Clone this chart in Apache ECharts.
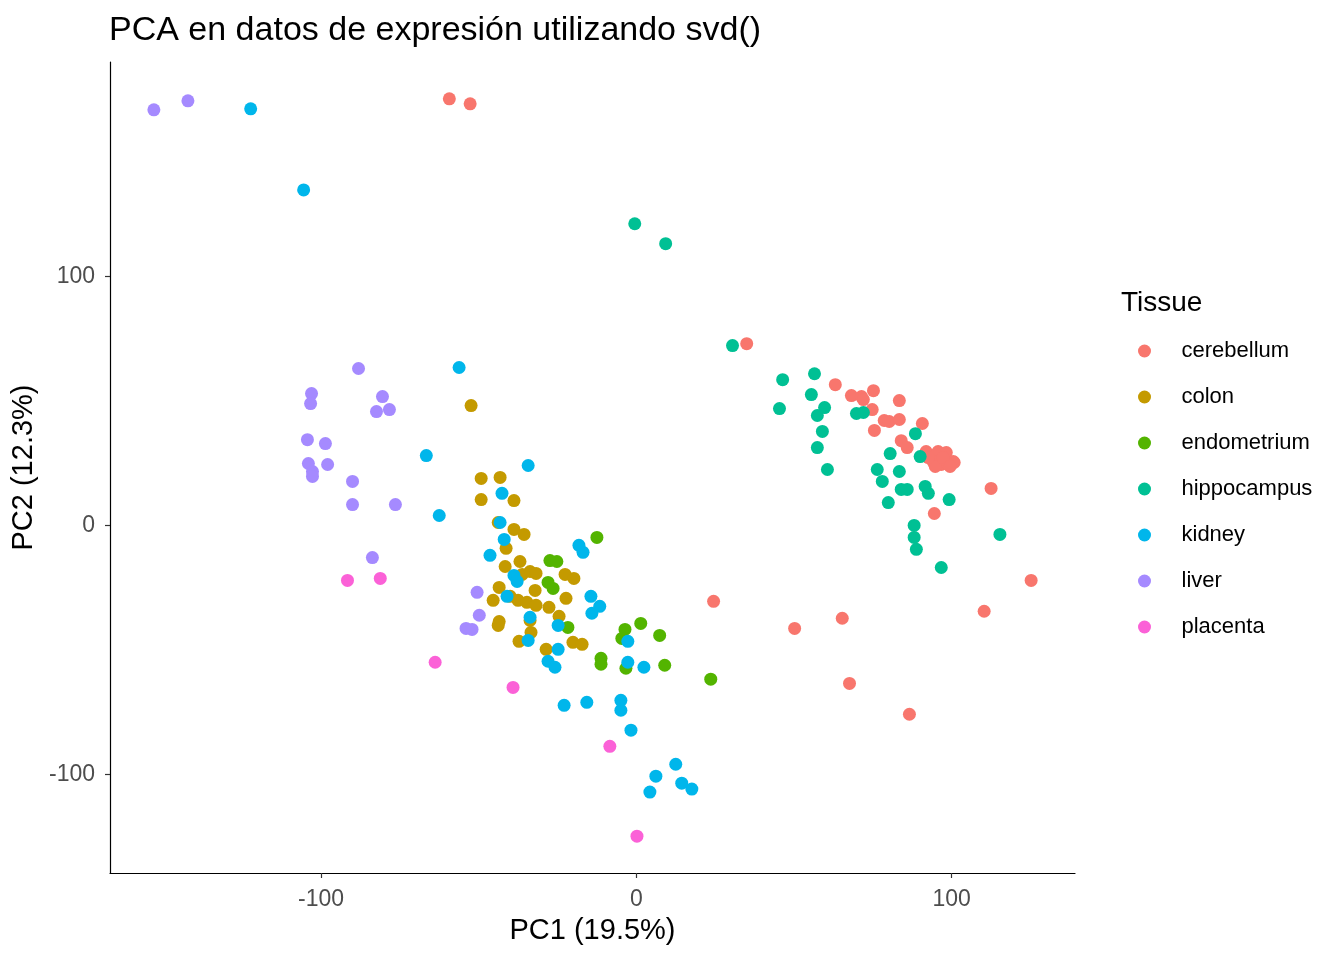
<!DOCTYPE html>
<html>
<head>
<meta charset="utf-8">
<script src="https://cdn.jsdelivr.net/npm/echarts@6/dist/echarts.min.js"></script>
<style>
html,body{margin:0;padding:0;background:#fff;}
#chart{width:1344px;height:960px;}
</style>
</head>
<body>
<div id="chart"></div>
<script>
const tissues = ['cerebellum','colon','endometrium','hippocampus','kidney','liver','placenta'];
const colors = ['#F8766D','#C49A00','#53B400','#00C094','#00B6EB','#A58AFF','#FB61D7'];
const xTicks = [-100, 0, 100];
const yTicks = [-100, 0, 100];

const cerebellum = [
  [-59.3,171.5],[-52.7,169.5],[35.0,73.1],[63.1,56.6],[68.2,52.2],[71.4,51.8],[72.0,50.6],
  [75.2,54.2],[83.4,50.2],[74.8,46.6],[78.6,42.2],[80.2,41.8],[83.4,42.6],[90.7,41.0],
  [75.5,38.2],[84.0,34.1],[85.9,31.3],[91.9,29.7],[95.7,29.7],[98.3,29.3],[94.1,25.7],
  [96.7,24.5],[100.5,25.7],[100.8,25.3],[94.8,23.7],[98.9,24.5],[92.6,27.3],[97.3,27.3],
  [99.5,23.7],[112.5,14.9],[94.5,4.8],[125.2,-22.1],[110.3,-34.5],[24.5,-30.5],
  [50.2,-41.4],[65.3,-37.3],[67.6,-63.5],[86.6,-75.9]
];
const colon = [
  [-52.4,48.2],[-49.2,18.9],[-43.2,19.3],[-49.2,10.4],[-38.8,10.0],[-43.8,1.2],[-38.8,-1.6],
  [-35.6,-3.6],[-41.3,-9.2],[-36.9,-14.5],[-41.6,-16.5],[-36.2,-19.7],[-33.7,-18.5],
  [-31.8,-19.3],[-22.6,-19.7],[-19.8,-21.3],[-43.5,-24.9],[-32.1,-26.1],[-40.0,-28.5],
  [-37.5,-30.1],[-45.4,-30.1],[-34.7,-30.9],[-31.8,-32.1],[-22.3,-29.3],[-27.7,-32.9],
  [-24.5,-36.5],[-43.5,-38.6],[-43.8,-40.2],[-33.7,-38.2],[-33.4,-43.0],[-37.2,-46.6],
  [-20.1,-47.0],[-17.2,-47.8],[-28.6,-49.8]
];
const endometrium = [
  [-12.5,-4.8],[-27.4,-14.1],[-25.2,-14.5],[-28.0,-22.9],[-26.4,-25.3],[-21.7,-41.0],
  [-3.6,-41.8],[1.4,-39.4],[-4.6,-45.4],[7.4,-44.2],[-11.2,-53.4],[-11.2,-55.8],
  [-3.3,-57.4],[9.0,-56.2],[23.6,-61.8]
];
const hippocampus = [
  [-0.5,121.3],[9.3,113.3],[30.5,72.3],[46.4,58.6],[56.5,61.0],[55.5,52.6],[45.4,47.0],
  [59.7,47.4],[57.4,44.2],[69.8,45.0],[72.0,45.4],[59.0,37.8],[88.5,36.9],[57.4,31.3],
  [80.5,28.9],[90.0,27.7],[60.6,22.5],[76.4,22.5],[83.4,21.7],[78.0,17.7],[84.0,14.5],
  [85.9,14.5],[91.6,15.7],[92.6,12.9],[99.2,10.4],[79.9,9.2],[88.1,0.0],[88.1,-4.8],
  [88.8,-9.6],[115.3,-3.6],[96.7,-16.9]
];
const kidney = [
  [-122.3,167.5],[-105.5,134.9],[-56.2,63.5],[-66.6,28.1],[-62.5,4.0],[-34.3,24.1],
  [-42.6,12.9],[-43.2,1.2],[-41.9,-5.6],[-46.4,-12.0],[-18.2,-8.0],[-16.9,-10.8],
  [-38.8,-20.1],[-37.8,-22.5],[-41.0,-28.5],[-14.4,-28.5],[-11.6,-32.5],[-14.1,-35.3],
  [-33.7,-36.9],[-24.8,-40.2],[-2.7,-46.6],[-24.8,-49.8],[-28.0,-54.6],[-25.8,-57.0],
  [-2.7,-55.0],[2.4,-57.0],[-22.9,-72.3],[-15.7,-71.1],[-4.9,-70.3],[-4.9,-74.3],
  [-1.7,-82.3],[12.5,-96.0],[6.2,-100.8],[4.3,-107.2],[14.4,-103.6],[17.6,-106.0],
  [-34.3,-46.2]
];
const liver = [
  [-153.0,167.1],[-142.2,170.7],[-88.1,63.1],[-103.0,53.0],[-103.3,49.0],[-80.5,51.8],
  [-82.4,45.8],[-78.3,46.6],[-104.3,34.5],[-98.6,32.9],[-104.0,24.9],[-102.7,21.7],
  [-102.7,19.7],[-97.9,24.5],[-90.0,17.7],[-90.0,8.4],[-76.4,8.4],[-83.7,-12.9],
  [-50.5,-26.9],[-49.8,-36.1],[-54.0,-41.4],[-52.1,-41.8]
];
const placenta = [
  [-91.6,-22.1],[-81.2,-21.3],[-63.8,-55.0],[-39.1,-65.1],[-8.4,-88.8],[0.2,-124.9]
];

const seriesData = [cerebellum, colon, endometrium, hippocampus, kidney, liver, placenta];

// ggplot-style 5% expansion of the data range
const allPts = seriesData.flat();
const xs = allPts.map(p => p[0]), ys = allPts.map(p => p[1]);
const xMin0 = Math.min(...xs), xMax0 = Math.max(...xs);
const yMin0 = Math.min(...ys), yMax0 = Math.max(...ys);
const xPad = (xMax0 - xMin0) * 0.05, yPad = (yMax0 - yMin0) * 0.05;

const FONT = '"Liberation Sans", Arial, sans-serif';

const chart = echarts.init(document.getElementById('chart'), null, {renderer: 'canvas'});
chart.setOption({
  backgroundColor: '#ffffff',
  animation: false,
  textStyle: {fontFamily: FONT},
  title: [
    {
      text: 'PCA en datos de expresión utilizando svd()',
      left: 109, top: 14, padding: 0,
      textStyle: {fontFamily: FONT, fontSize: 34, fontWeight: 'normal', color: '#000000'}
    },
    {
      text: 'Tissue',
      left: 1121, top: 289, padding: 0,
      textStyle: {fontFamily: FONT, fontSize: 28, fontWeight: 'normal', color: '#000000'}
    }
  ],
  legend: {
    data: tissues,
    orient: 'vertical',
    left: 1138, top: 339, padding: 0,
    icon: 'circle',
    itemWidth: 64, itemHeight: 13, itemGap: 22,
    selectedMode: false,
    textStyle: {fontFamily: FONT, fontSize: 22, lineHeight: 24, color: '#000000'}
  },
  grid: {left: 110, right: 269, top: 62, bottom: 87, containLabel: false},
  xAxis: {
    type: 'value',
    min: xMin0 - xPad, max: xMax0 + xPad,
    name: 'PC1 (19.5%)',
    nameLocation: 'middle', nameGap: 43,
    nameTextStyle: {fontFamily: FONT, fontSize: 29, color: '#000000'},
    axisLine: {show: true, onZero: false, lineStyle: {color: '#000000', width: 1.2}},
    axisTick: {show: true, length: 5, customValues: xTicks, lineStyle: {color: '#333333', width: 1.2}},
    axisLabel: {margin: 15, customValues: xTicks, fontFamily: FONT, fontSize: 23, color: '#4D4D4D'},
    splitLine: {show: false}
  },
  yAxis: {
    type: 'value',
    min: yMin0 - yPad, max: yMax0 + yPad,
    name: 'PC2 (12.3%)',
    nameLocation: 'middle', nameGap: 66, nameRotate: 90,
    nameTextStyle: {fontFamily: FONT, fontSize: 29, color: '#000000'},
    axisLine: {show: true, onZero: false, lineStyle: {color: '#000000', width: 1.2}},
    axisTick: {show: true, length: 5, customValues: yTicks, lineStyle: {color: '#333333', width: 1.2}},
    axisLabel: {margin: 15, customValues: yTicks, fontFamily: FONT, fontSize: 23, color: '#4D4D4D'},
    splitLine: {show: false}
  },
  series: tissues.map((t, i) => ({
    name: t,
    type: 'scatter',
    symbol: 'circle',
    symbolSize: 13,
    itemStyle: {color: colors[i], opacity: 1},
    emphasis: {disabled: true},
    data: seriesData[i]
  }))
});
</script>
</body>
</html>
